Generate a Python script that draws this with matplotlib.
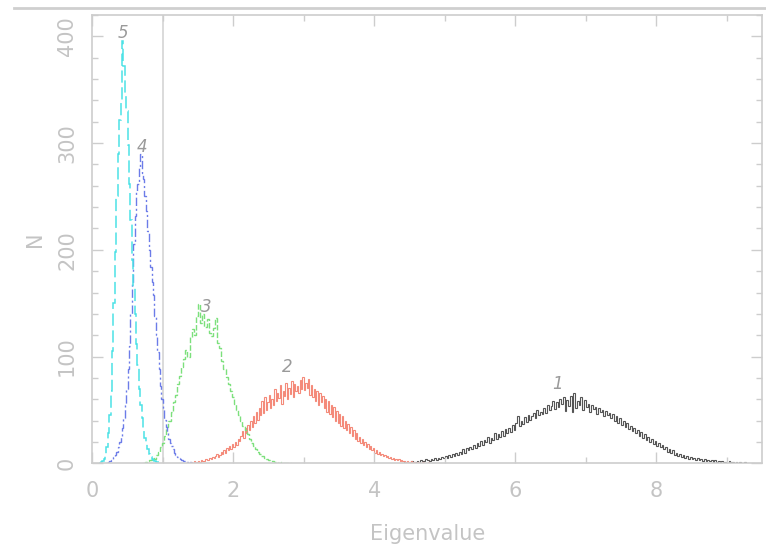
import matplotlib
matplotlib.use("Agg")
import matplotlib.pyplot as plt
from matplotlib.lines import Line2D
from matplotlib.ticker import MultipleLocator
import numpy as np

# Гістограми власних значень (кількість на бін), від першого до п'ятого
ev1_start, ev1_width = 4.40, 0.025
ev1_counts = [0, 1, 0, 0, 1, 2, 1, 1, 2, 1, 3, 2, 2, 4, 3, 2, 4, 3, 5, 3,
              5, 4, 6, 5, 7, 5, 8, 6, 9, 7, 10, 8, 11, 9, 13, 10, 14, 12, 15, 13,
              17, 14, 19, 16, 21, 17, 22, 20, 25, 19, 24, 22, 28, 23, 27, 25, 30, 26, 32, 28,
              33, 29, 36, 31, 38, 44, 35, 40, 37, 43, 39, 45, 41, 44, 47, 42, 50, 45, 48, 46,
              52, 47, 55, 50, 54, 58, 51, 57, 53, 60, 56, 62, 49, 59, 54, 63, 48, 66, 52, 58,
              55, 62, 50, 59, 53, 56, 48, 55, 51, 53, 46, 52, 48, 50, 44, 49, 45, 47, 42, 46,
              40, 44, 38, 42, 36, 40, 34, 38, 32, 35, 30, 33, 28, 31, 26, 29, 24, 27, 22, 25,
              20, 23, 18, 21, 16, 19, 15, 17, 13, 15, 11, 13, 10, 12, 8, 10, 7, 9, 6, 8,
              5, 7, 4, 6, 4, 5, 3, 5, 3, 4, 2, 4, 2, 3, 2, 3, 1, 3, 1, 2,
              1, 2, 1, 1, 0, 2, 1, 1, 0, 1, 0, 1, 0, 0, 1, 0, 0, 0, 0, 0]

ev2_start, ev2_width = 1.30, 0.02
ev2_counts = [0, 0, 1, 0, 1, 1, 0, 2, 1, 1, 2, 1, 3, 2, 2, 4, 3, 3, 5, 4,
              6, 5, 7, 9, 6, 8, 11, 9, 12, 10, 14, 12, 16, 13, 18, 15, 20, 17, 23, 21,
              26, 30, 24, 33, 28, 36, 31, 40, 34, 44, 38, 48, 41, 52, 45, 58, 47, 62, 50, 57,
              64, 52, 60, 55, 70, 58, 66, 61, 73, 56, 68, 63, 75, 60, 71, 65, 77, 62, 74, 68,
              72, 66, 78, 70, 81, 69, 75, 71, 79, 64, 73, 62, 70, 58, 68, 55, 66, 57, 63, 52,
              60, 48, 58, 46, 55, 43, 53, 40, 49, 38, 46, 35, 44, 33, 40, 31, 37, 28, 34, 26,
              31, 23, 28, 21, 25, 19, 23, 17, 20, 15, 18, 13, 16, 12, 14, 10, 12, 9, 11, 8,
              9, 7, 8, 6, 7, 5, 6, 4, 5, 3, 4, 3, 4, 2, 3, 2, 2, 1, 2, 1,
              1, 2, 1, 1, 0, 1, 1, 0, 0, 1, 0, 0, 0, 1, 0, 0, 0, 0, 0, 0]

ev3_start, ev3_width = 0.72, 0.03
ev3_counts = [0, 1, 2, 3, 5, 4, 8, 11, 15, 19, 26, 34, 40, 48, 57, 64, 74, 82, 90, 98,
              106, 100, 118, 126, 120, 138, 149, 131, 140, 128, 135, 122, 119, 127, 136, 113, 108, 96, 88, 81,
              74, 68, 62, 56, 50, 45, 40, 35, 31, 27, 23, 19, 16, 13, 11, 9, 7, 5, 4, 3,
              2, 2, 1, 1, 0, 1, 0, 0, 0, 0]

ev4_start, ev4_width = 0.20, 0.02
ev4_counts = [0, 1, 2, 3, 4, 6, 8, 11, 15, 20, 26, 33, 42, 55, 70, 88, 110, 140, 168, 205,
              232, 255, 262, 278, 290, 272, 266, 250, 236, 218, 200, 184, 170, 158, 138, 120, 104, 88, 72, 60,
              50, 41, 34, 28, 23, 19, 16, 13, 10, 8, 6, 5, 4, 3, 2, 2, 1, 1, 0, 1,
              0, 0, 0]

ev5_start, ev5_width = 0.10, 0.02
ev5_counts = [0, 1, 2, 4, 8, 15, 28, 45, 68, 105, 150, 198, 250, 290, 322, 338, 396, 372, 345, 330,
              298, 262, 228, 190, 165, 140, 112, 92, 70, 55, 42, 32, 24, 18, 13, 9, 6, 4, 3, 2,
              1, 1, 0, 0]

curve_names = ["1", "2", "3", "4", "5"]

text_col = "#c4c4c4"
frame_col = "#cdcdcd"

fig = plt.figure(figsize=(7.66, 5.49), dpi=100)
ax = fig.add_axes([0.1205, 0.1561, 0.8743, 0.8166])

series = [
    (ev1_start, ev1_width, ev1_counts, "#555555", "-", 0.8),
    (ev2_start, ev2_width, ev2_counts, "#f48a7a", "-", 0.8),
    (ev3_start, ev3_width, ev3_counts, "#7ce07c", (0, (4, 1.5)), 1.0),
    (ev4_start, ev4_width, ev4_counts, "#6c7ce8", (0, (6, 2, 1.5, 2)), 1.0),
    (ev5_start, ev5_width, ev5_counts, "#4ce2e6", (0, (8, 3)), 1.1),
]
for start, width, counts, col, ls, lw in series:
    edges = start + width * np.arange(len(counts) + 1)
    ax.stairs(counts, edges, color=col, linestyle=ls, linewidth=lw)

# Підписи над піками
label_xy = [(6.6, 66), (2.76, 82), (1.62, 138), (0.70, 288), (0.43, 395)]
for name, (lx, ly) in zip(curve_names, label_xy):
    ax.text(lx, ly, name, color="#9a9a9a", fontsize=12, style="italic",
            ha="center", va="bottom")

ax.axvline(1.0, color="#d4d4d4", linewidth=1.2, zorder=0)

ax.set_xlim(0, 9.5)
ax.set_ylim(0, 420)
ax.xaxis.set_major_locator(MultipleLocator(2))
ax.xaxis.set_minor_locator(MultipleLocator(1))
ax.yaxis.set_major_locator(MultipleLocator(100))
ax.yaxis.set_minor_locator(MultipleLocator(20))

ax.tick_params(which="both", direction="in", top=True, right=True,
               color=frame_col, labelcolor=text_col, labelsize=15)
ax.tick_params(which="major", length=8, width=1)
ax.tick_params(which="minor", length=4, width=1)
ax.tick_params(axis="x", which="major", pad=13)
ax.tick_params(axis="y", which="major", pad=11)
for lab in ax.get_yticklabels():
    lab.set_rotation(90)
    lab.set_va("center")

for sp in ax.spines.values():
    sp.set_color(frame_col)
    sp.set_linewidth(1.2)

ax.set_xlabel("Eigenvalue", color=text_col, fontsize=15, labelpad=16)
ax.set_ylabel("N", color=text_col, fontsize=15, labelpad=9)

# Лінія зверху сторінки
fig.add_artist(Line2D([14 / 766, 1.0], [1 - 7.5 / 549, 1 - 7.5 / 549],
                      transform=fig.transFigure, color="#cfcfcf", linewidth=2))

fig.savefig("out.png", dpi=100)
